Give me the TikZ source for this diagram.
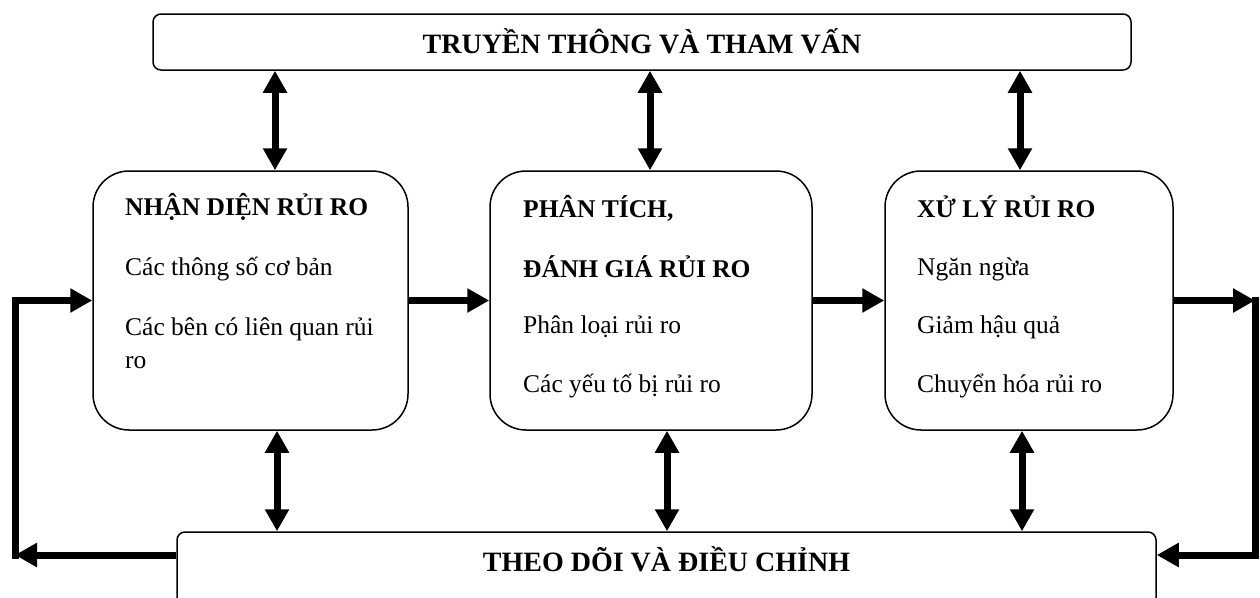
\documentclass[tikz,border=0pt]{standalone}
\usepackage{fontspec}
\setmainfont{Liberation Serif}
\usetikzlibrary{arrows.meta}
\begin{document}
\begin{tikzpicture}[x=1pt,y=-1pt,
  bandbox/.style={draw, line width=1.5pt, rounded corners=8pt, inner sep=0pt},
  stepbox/.style={draw, line width=1.5pt, rounded corners=36pt, inner sep=0pt, minimum height=259pt},
  bigtitle/.style={anchor=base, inner sep=0pt, font=\fontsize{28}{30}\selectfont\bfseries},
  head/.style={anchor=base west, inner sep=0pt, font=\fontsize{25.5}{30}\selectfont\bfseries},
  body/.style={anchor=base west, inner sep=0pt, font=\fontsize{25.5}{30}\selectfont},
  arr/.style={line width=7pt, line join=miter, -{Triangle[length=22pt,width=23pt]}},
  darr/.style={line width=7pt, {Triangle[length=22pt,width=23pt]}-{Triangle[length=22pt,width=23pt]}}
]
\useasboundingbox (0,0) rectangle (1260,597);
\clip (0,0) rectangle (1260,597);

% boxes
\node[bandbox, minimum width=978pt, minimum height=56pt] (top) at (642,42) {};
\node[bandbox, minimum width=979pt, minimum height=90pt] (bot) at (666.5,577) {};
\node[stepbox, minimum width=315pt] (b1) at (250.5,300.5) {};
\node[stepbox, minimum width=322pt] (b2) at (651,300.5) {};
\node[stepbox, minimum width=288pt] (b3) at (1029,300.5) {};

% titles
\node[bigtitle] (ttop) at (642,53) {TRUYỀN THÔNG VÀ THAM VẤN};
\node[bigtitle] (tbot) at (666.5,571) {THEO DÕI VÀ ĐIỀU CHỈNH};

% box 1
\node[head] (h1) at (125,215) {NHẬN DIỆN RỦI RO};
\node[body] (p11) at (125,275) {Các thông số cơ bản};
\node[body] (p12) at (125,335) {Các bên có liên quan rủi};
\node[body] (p13) at (125,368) {ro};
% box 2
\node[head] (h2a) at (523,217) {PHÂN TÍCH,};
\node[head] (h2b) at (523,277) {ĐÁNH GIÁ RỦI RO};
\node[body] (p21) at (523,333) {Phân loại rủi ro};
\node[body] (p22) at (523,392) {Các yếu tố bị rủi ro};
% box 3
\node[head] (h3) at (917,217) {XỬ LÝ RỦI RO};
\node[body] (p31) at (917,275) {Ngăn ngừa};
\node[body] (p32) at (917,333) {Giảm hậu quả};
\node[body] (p33) at (917,392) {Chuyển hóa rủi ro};

% helper coordinates
\coordinate (xa) at (275,0);
\coordinate (xb) at (650,0);
\coordinate (xc) at (1020,0);
\coordinate (ya) at (277,0);
\coordinate (yb) at (667,0);
\coordinate (yc) at (1022,0);
\coordinate (lv) at (0,555);
\coordinate (rc1) at (1255,300.5);
\coordinate (rc2) at (1255,555);
\coordinate (lc1) at (15,300.5);
\coordinate (lc2) at (15,555);

% vertical double arrows
\draw[darr] (xa |- top.south) -- (xa |- b1.north);
\draw[darr] (xb |- top.south) -- (xb |- b2.north);
\draw[darr] (xc |- top.south) -- (xc |- b3.north);
\draw[darr] (ya |- b1.south) -- (ya |- bot.north);
\draw[darr] (yb |- b2.south) -- (yb |- bot.north);
\draw[darr] (yc |- b3.south) -- (yc |- bot.north);

% horizontal arrows
\draw[arr] (b1.east) -- (b2.west);
\draw[arr] (b2.east) -- (b3.west);

% right loop
\draw[arr] (b3.east) -- (rc1);
\draw[arr] ([yshift=3.5pt]rc1) -- (rc2) -- (bot.east |- lv);

% left loop
\draw[arr] (bot.west |- lv) -- (lc2);
\draw[arr] ([yshift=-3.5pt]lc2) -- (lc1) -- (b1.west);
\end{tikzpicture}
\end{document}
